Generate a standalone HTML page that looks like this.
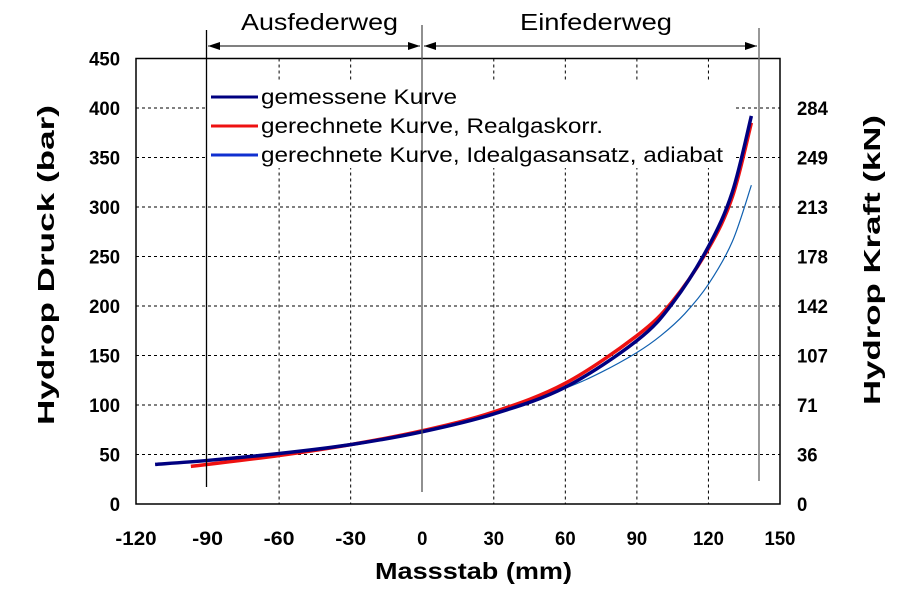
<!DOCTYPE html>
<html><head><meta charset="utf-8"><style>
html,body{margin:0;padding:0;background:#fff;}
svg{display:block;font-family:"Liberation Sans",Arial,sans-serif;}
.t{font-weight:bold;font-size:19px;fill:#000;}
.g{stroke:#000;stroke-width:1;stroke-dasharray:3,3;fill:none;}
</style></head><body>
<svg id="s" width="900" height="600" viewBox="0 0 900 600" xmlns="http://www.w3.org/2000/svg">
<defs><marker id="ah" markerWidth="12" markerHeight="8" refX="12" refY="4" orient="auto" markerUnits="userSpaceOnUse"><path d="M0,0 L12,4 L0,8 z" fill="#000"/></marker></defs>
<g id="grid"></g>
<rect x="208" y="80" width="526" height="88" fill="#fff"/>
<rect x="136" y="58.5" width="644" height="445.5" fill="none" stroke="#000" stroke-width="1.5"/>
<g id="curves"></g>
<line x1="206.5" y1="30" x2="206.5" y2="487" stroke="#000" stroke-width="1.3"/>
<line x1="422" y1="25" x2="422" y2="492" stroke="#555" stroke-width="1.3"/>
<line x1="759" y1="28" x2="759" y2="481" stroke="#777" stroke-width="1.5"/>
<line x1="208" y1="46" x2="420" y2="46" stroke="#000" marker-end="url(#ah)" />
<line x1="420" y1="46" x2="208" y2="46" stroke="#000" marker-end="url(#ah)" />
<line x1="424" y1="46" x2="757" y2="46" stroke="#000" marker-end="url(#ah)" />
<line x1="757" y1="46" x2="424" y2="46" stroke="#000" marker-end="url(#ah)" />
<text x="241" y="30" font-size="23" textLength="157" lengthAdjust="spacingAndGlyphs">Ausfederweg</text>
<text x="520" y="30" font-size="23" textLength="152" lengthAdjust="spacingAndGlyphs">Einfederweg</text>
<line x1="211" y1="97" x2="258" y2="97" stroke="#000080" stroke-width="3"/>
<line x1="211" y1="126" x2="258" y2="126" stroke="#ee1111" stroke-width="3"/>
<line x1="211" y1="155" x2="258" y2="155" stroke="#1030d0" stroke-width="3"/>
<text x="261" y="104" font-size="21" textLength="196" lengthAdjust="spacingAndGlyphs">gemessene Kurve</text>
<text x="261" y="133" font-size="21" textLength="342" lengthAdjust="spacingAndGlyphs">gerechnete Kurve, Realgaskorr.</text>
<text x="261" y="162" font-size="21" textLength="462" lengthAdjust="spacingAndGlyphs">gerechnete Kurve, Idealgasansatz, adiabat</text>
<g id="labels"></g>
<text class="t" x="375" y="579" style="font-size:23px" textLength="197" lengthAdjust="spacingAndGlyphs">Massstab (mm)</text>
<text class="t" transform="translate(54,425) rotate(-90)" style="font-size:23px" textLength="320" lengthAdjust="spacingAndGlyphs">Hydrop Druck (bar)</text>
<text class="t" transform="translate(880,405) rotate(-90)" style="font-size:23px" textLength="290" lengthAdjust="spacingAndGlyphs">Hydrop Kraft (kN)</text>
</svg>
<script>
const NS="http://www.w3.org/2000/svg";
const X=v=>136+(v+120)*644/270, Y=v=>504-v*445.5/450;
function el(p,n,a,txt){const e=document.createElementNS(NS,n);for(const k in a)e.setAttribute(k,a[k]);if(txt!==undefined)e.textContent=txt;p.appendChild(e);return e;}
const G=document.getElementById('grid'),L=document.getElementById('labels'),C=document.getElementById('curves');
for(let v=50;v<450;v+=50)el(G,'line',{x1:136,x2:780,y1:Y(v),y2:Y(v),class:'g'});
for(let v=-60;v<150;v+=30)if(v!==0)el(G,'line',{x1:X(v),x2:X(v),y1:58.5,y2:504,class:'g'});
const kn=['0','36','71','107','142','178','213','249','284'];
const W=s=>s.length*10.3;
for(let i=0;i<=9;i++){const s=String(i*50);el(L,'text',{x:120-W(s),y:Y(i*50)+7,class:'t',textLength:W(s),lengthAdjust:'spacingAndGlyphs'},s);}
for(let i=0;i<=8;i++){const s=kn[i];el(L,'text',{x:797,y:Y(i*50)+7,class:'t',textLength:W(s),lengthAdjust:'spacingAndGlyphs'},s);}
for(let v=-120;v<=150;v+=30){const s=String(v);const w=W(s);el(L,'text',{x:X(v)-w/2,y:545,class:'t',textLength:w,lengthAdjust:'spacingAndGlyphs'},s);}
function spline(pts){let d='';const P=pts.map(p=>[X(p[0]),Y(p[1])]);
 for(let i=0;i<P.length-1;i++){const p0=P[Math.max(i-1,0)],p1=P[i],p2=P[i+1],p3=P[Math.min(i+2,P.length-1)];
  if(i==0)d+='M'+p1[0]+','+p1[1];
  d+=' C'+(p1[0]+(p2[0]-p0[0])/6)+','+(p1[1]+(p2[1]-p0[1])/6)+' '+(p2[0]-(p3[0]-p1[0])/6)+','+(p2[1]-(p3[1]-p1[1])/6)+' '+p2[0]+','+p2[1];}
 return d;}
const ideal=[[-30,60],[0,73],[30,91],[60,117],[75,133],[90,153],[100,170],[110,192],[120,222],[130,265],[138,322]];
const red=[[-97,38],[-90,40],[-60,49],[-30,60],[0,74],[30,93],[60,122],[90,170],[105,205],[120,258],[130,310],[138,385]];
const meas=[[-112,40],[-90,44],[-60,51],[-30,60],[0,73],[30,91],[60,118],[90,165],[105,203],[120,260],[130,315],[138,392]];
el(C,'path',{d:spline(ideal),fill:'none',stroke:'#1060b0','stroke-width':1.2});
el(C,'path',{d:spline(red),fill:'none',stroke:'#ee1111','stroke-width':3.5});
el(C,'path',{d:spline(meas),fill:'none',stroke:'#000080','stroke-width':3.5});
</script>
</body></html>
